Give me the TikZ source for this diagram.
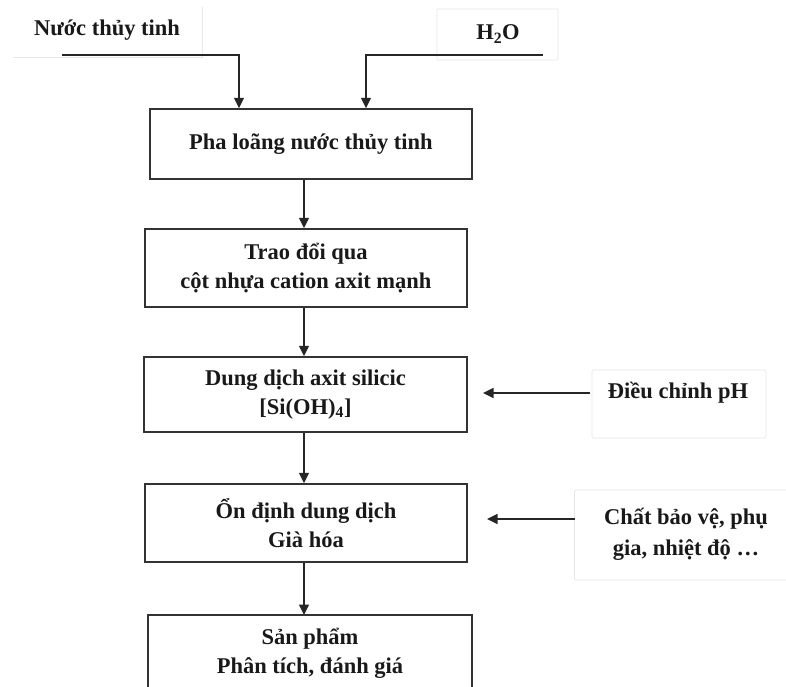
\documentclass[tikz,border=0pt]{standalone}
\usepackage{fontspec}
\setmainfont{Liberation Serif}
\usetikzlibrary{arrows.meta}
\begin{document}
\begin{tikzpicture}[x=1pt,y=-1pt,
  txt/.style={font=\bfseries\fontsize{22.5}{29}\selectfont, align=center, text=black!90, inner sep=0pt},
  stepbox/.style={txt, draw=black!80, line width=1.5pt, minimum width=322pt},
  faint/.style={draw=black!9, line width=0.8pt},
  arr/.style={draw=black!85, line width=1.6pt, -{Triangle[length=10.5pt,width=10pt]}},
  ]
\useasboundingbox[fill=white] (0,0) rectangle (786,686);

% faint frames of the side labels
\draw[faint] (13,57) -- (202,57) -- (202,7);
\node[faint, rectangle, rounded corners=1pt, minimum width=121pt, minimum height=51pt] (wfr) at (497.5,34.5) {};
\node[faint, rectangle, rounded corners=1pt, minimum width=174pt, minimum height=68pt] (phfr) at (679,404) {};
\node[faint, rectangle, rounded corners=1pt, minimum width=216pt, minimum height=90pt, anchor=west] (chfr) at (574,535) {};

% labels
\node[txt] (nuoc) at (107,30) {Nước thủy tinh};
\node[txt] (water) at (498,34) {H\textsubscript{2}O};
\node[txt] (ph) at (678,393) {Điều chỉnh pH};
\node[txt, font=\bfseries\fontsize{22.5}{31}\selectfont] (chat) at (686,534) {Chất bảo vệ, phụ\\gia, nhiệt độ \dots};

% main boxes
\node[stepbox, minimum height=70pt] (b1) at (311,144) {Pha loãng nước thủy tinh};
\node[stepbox, minimum height=78pt] (b2) at (306,268) {Trao đổi qua\\cột nhựa cation axit mạnh};
\node[stepbox, minimum height=75pt, minimum width=323pt] (b3) at (305.5,394.5) {Dung dịch axit silicic\\{}[Si(OH)\textsubscript{4}]};
\node[stepbox, minimum height=78pt] (b4) at (306,523) {Ổn định dung dịch\\Già hóa};
\node[txt] (b5) at (310,653) {Sản phẩm\\Phân tích, đánh giá};
\coordinate (b5bl) at (148,690);
\coordinate (b5tl) at (148,615);
\coordinate (b5tr) at (472,615);
\coordinate (b5br) at (472,690);
\draw[draw=black!80, line width=1.5pt] (b5bl) -- (b5tl) -- (b5tr) -- (b5br);

% connectors
\coordinate (ax) at (304,0);
\coordinate (nL) at (62,55);
\coordinate (nX) at (239,0);
\coordinate (hR) at (543,55);
\coordinate (hX) at (366,0);
\draw[arr] (nL) -| (nX |- b1.north);
\draw[arr] (hR) -| (hX |- b1.north);
\draw[arr] (b1.south -| ax) -- (b2.north -| ax);
\draw[arr] (b2.south -| ax) -- (b3.north -| ax);
\draw[arr] (b3.south -| ax) -- (b4.north -| ax);
\draw[arr] (b4.south -| ax) -- (b5tl -| ax);

\coordinate (phS) at (590,393);
\coordinate (phE) at (483,393);
\draw[arr] (phS) -- (phE);
\coordinate (chS) at (575,519);
\coordinate (chE) at (487,519);
\draw[arr] (chS) -- (chE);
\end{tikzpicture}
\end{document}
